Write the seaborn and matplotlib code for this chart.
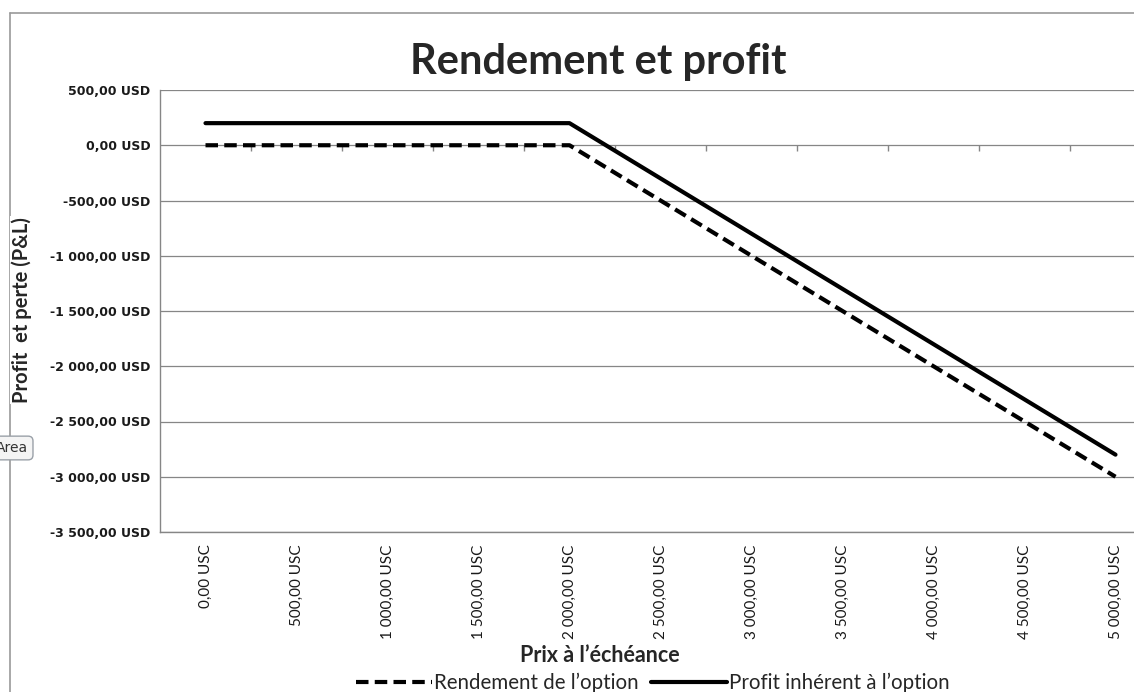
import numpy as np
import pandas as pd
import matplotlib
matplotlib.use("Agg")
import matplotlib.pyplot as plt
from matplotlib.lines import Line2D
import seaborn as sns

# Données
prix = [0, 500, 1000, 1500, 2000, 2500, 3000, 3500, 4000, 4500, 5000]
rendement = [0, 0, 0, 0, 0, -500, -1000, -1500, -2000, -2500, -3000]
profit = [200, 200, 200, 200, 200, -300, -800, -1300, -1800, -2300, -2800]
y_ticks = [500, 0, -500, -1000, -1500, -2000, -2500, -3000, -3500]


def fmt_money(v, unit):
    s = f"{abs(v):,.2f}".replace(",", " ").replace(".", ",")
    return ("-" if v < 0 else "") + s + " " + unit


df = pd.DataFrame({"pos": range(len(prix)), "rendement": rendement, "profit": profit})

sns.set_theme(style="white")
plt.rcParams["font.family"] = ["DejaVu Sans"]

fig = plt.figure(figsize=(11.34, 6.92), dpi=100)
W, H = 1134, 692
ax = fig.add_axes([160 / W, 1 - 532 / H, 1001 / W, 442 / H])

grid_c = "#868686"
sns.lineplot(data=df, x="pos", y="rendement", ax=ax, color="black", lw=3.0,
             linestyle=(0, (3.0, 1.5)), label="Rendement de l’option")
sns.lineplot(data=df, x="pos", y="profit", ax=ax, color="black", lw=3.0,
             label="Profit inhérent à l’option")
ax.get_legend().remove()

ax.set_xlim(-0.5, len(prix) - 0.5)
ax.set_ylim(min(y_ticks), max(y_ticks))
ax.set_yticks(y_ticks)
ax.set_yticklabels([fmt_money(v, "USD") for v in y_ticks], fontsize=9,
                   fontweight="bold", color="#1a1a1a")
ax.set_xticks(range(len(prix)))
ax.set_xticklabels([fmt_money(v, "USC") for v in prix], rotation=90,
                   fontsize=11, fontfamily="Lato", color="#1a1a1a")
ax.tick_params(axis="x", length=0, pad=9)
ax.tick_params(axis="y", length=7, width=1, color=grid_c, direction="out", pad=0)
ax.grid(axis="y", color=grid_c, lw=0.9)
ax.set_xlabel("")
ax.set_ylabel("")
for s in ["top", "right"]:
    ax.spines[s].set_visible(False)
for s in ["left", "bottom"]:
    ax.spines[s].set_color(grid_c)
    ax.spines[s].set_linewidth(1.0)

# axe des catégories qui croise à 0
sec = ax.secondary_xaxis(0, transform=ax.transData)
sec.set_xticks(np.arange(0.5, len(prix) - 1, 1.0))
sec.set_xticklabels([])
sec.tick_params(length=4, width=1, color=grid_c, direction="out")
sec.spines["bottom"].set_visible(False)
sec.spines["top"].set_visible(False)

# cadre du graphique
fig.add_artist(Line2D([10 / W, 1], [1 - 13 / H, 1 - 13 / H], color="#9a9a9a", lw=1.2))
fig.add_artist(Line2D([10 / W, 10 / W], [0, 1 - 13 / H], color="#9a9a9a", lw=1.2))

fig.text(598 / W, 1 - 62 / H, "Rendement et profit", ha="center", va="center",
         fontsize=30, fontweight="bold", fontfamily="Lato")
fig.text(22 / W, 1 - 310 / H, "Profit  et perte (P&L)", rotation=90, ha="center",
         va="center", fontsize=14.5, fontweight="bold", fontfamily="Lato",
         bbox=dict(facecolor="white", edgecolor="none", pad=1))
fig.text(600 / W, 1 - 655 / H, "Prix à l’échéance", ha="center", va="center",
         fontsize=15.5, fontweight="bold", fontfamily="Lato")
fig.text(-4 / W, 1 - 448 / H, "Area", ha="left", va="center", fontsize=10,
         color="#333333", fontfamily="DejaVu Sans",
         bbox=dict(facecolor="#f4f4f4", edgecolor="#9aa0a8", boxstyle="round,pad=0.35"))

handles, labels = ax.get_legend_handles_labels()
fig.legend(handles, labels, loc="center", bbox_to_anchor=(653 / W, 1 - 683 / H),
           ncol=2, frameon=False, handlelength=3.7, columnspacing=0.6,
           handletextpad=0.1, prop={"family": "Lato", "size": 14.8})

fig.savefig("out.png", dpi=100)
